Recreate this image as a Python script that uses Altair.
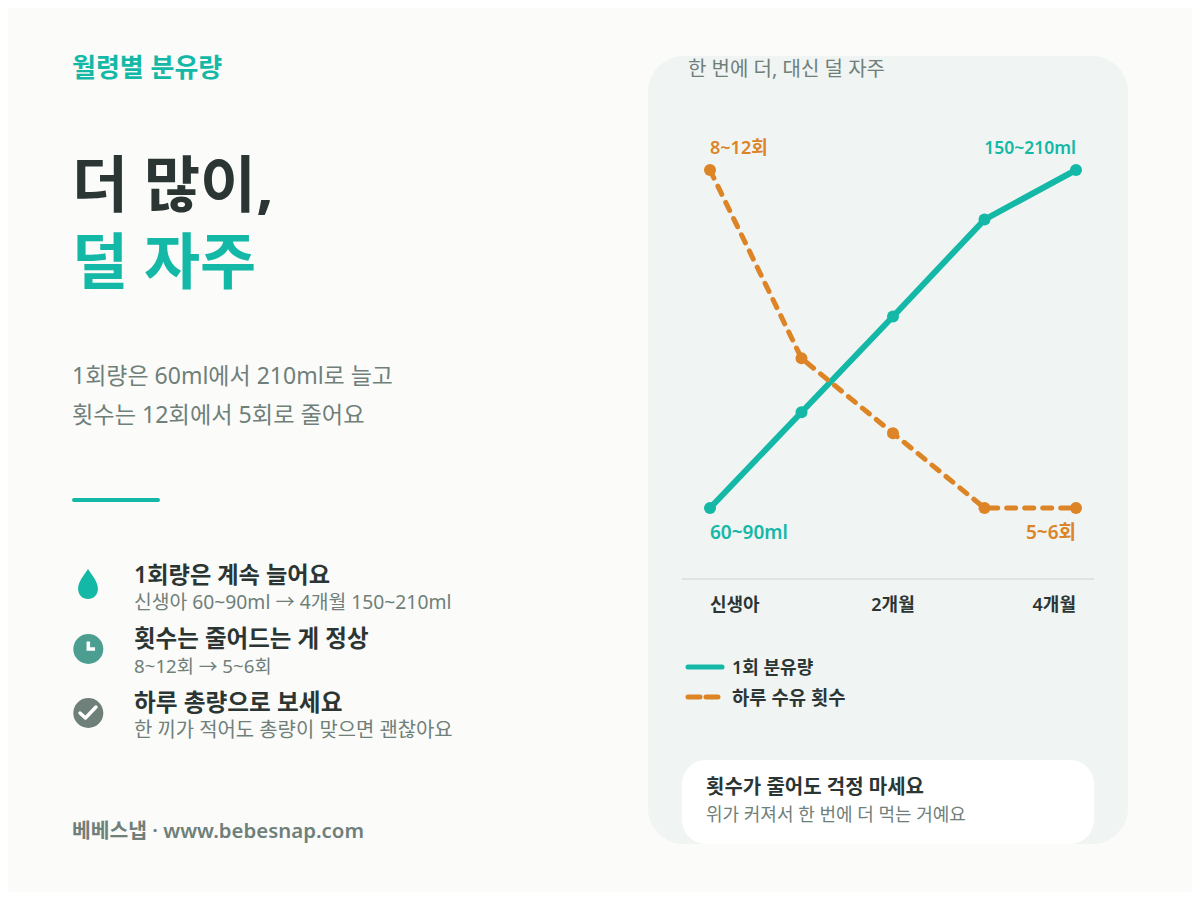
import altair as alt
import pandas as pd

FONT = "'Noto Sans', 'Noto Sans CJK KR'"
BG = "#FBFBF9"
PANEL = "#F0F4F3"
TEAL = "#14B8A6"
ORANGE = "#DD8426"
DARK = "#2B3634"
GRAY = "#6F7F7A"
RULE = "#DDE4E2"

months = [0, 1, 2, 3, 4]
ml_per_feed = [60, 102.5, 145, 188, 210]
feeds_per_day = [12, 8.1, 6.55, 5, 5]

eyebrow = "월령별 분유량"
title_1 = "더 많이,"
title_2 = "덜 자주"
body_lines = ["1회량은 60ml에서 210ml로 늘고", "횟수는 12회에서 5회로 줄어요"]
item_titles = ["1회량은 계속 늘어요", "횟수는 줄어드는 게 정상", "하루 총량으로 보세요"]
item_subs = ["신생아 60~90ml → 4개월 150~210ml", "8~12회 → 5~6회", "한 끼가 적어도 총량이 맞으면 괜찮아요"]
footer = "베베스냅 · www.bebesnap.com"
panel_title = "한 번에 더, 대신 덜 자주"
tick_labels = ["신생아", "2개월", "4개월"]
legend_labels = ["1회 분유량", "하루 수유 횟수"]
card_title = "횟수가 줄어도 걱정 마세요"
card_sub = "위가 커져서 한 번에 더 먹는 거예요"

df = pd.DataFrame({"month": months, "ml": ml_per_feed, "feeds": feeds_per_day})
one = alt.Data(values=[{"a": 1}])
OFF = 8  # page margin
TEXT_DY = 2


def px(v):
    return alt.value(v - OFF)


def text(s, x, y, size, color, weight=400, align="left"):
    return alt.Chart(one).mark_text(
        text=s, font=FONT, fontSize=size, fontWeight=weight, color=color,
        align=align, baseline="middle",
    ).encode(x=px(x), y=px(y + TEXT_DY))


def rect(x1, x2, y1, y2, color, r):
    return alt.Chart(one).mark_rect(color=color, cornerRadius=r).encode(
        x=px(x1), x2=px(x2), y=px(y1), y2=px(y2))


def hline(x1, x2, y, color, w, dash=None, cap="round"):
    kw = {"strokeDash": dash} if dash else {}
    return alt.Chart(one).mark_rule(color=color, strokeWidth=w, strokeCap=cap, **kw).encode(
        x=px(x1), x2=px(x2), y=px(y))


def glyph(shape, x, y, size, **kw):
    return alt.Chart(one).mark_point(shape=shape, size=size, **kw).encode(x=px(x), y=px(y))


x_enc = alt.X("month:Q", axis=None, scale=alt.Scale(domain=[0, 4], range=[702, 1068]))
y_ml = alt.Y("ml:Q", axis=None, scale=alt.Scale(domain=[60, 210], range=[500, 162]))
y_feed = alt.Y("feeds:Q", axis=None, scale=alt.Scale(domain=[5, 12], range=[500, 162]))

DROP = ("M0,-1 C0.3,-0.55 0.66,-0.15 0.66,0.33 C0.66,0.72 0.36,1 0,1 "
        "C-0.36,1 -0.66,0.72 -0.66,0.33 C-0.66,-0.15 -0.3,-0.55 0,-1 Z")
HANDS = "M0,-0.5 L0,0 L0.45,0"
CHECK = "M-0.55,0 L-0.19,0.33 L0.51,-0.4"

layers = [
    # panel & card
    rect(648, 1128, 56, 844, PANEL, 36),
    rect(682, 1094, 760, 844, "#FFFFFF", 24),
    # left column
    text(eyebrow, 72, 67, 26, TEAL, 600),
    text(title_1, 72, 187, 61, DARK, 700),
    text(title_2, 72, 264, 61, TEAL, 700),
    text(body_lines[0], 72, 375, 23, GRAY),
    text(body_lines[1], 72, 414, 23.2, GRAY),
    hline(74, 158, 500, TEAL, 4),
    glyph(DROP, 88, 584, 900, filled=True, color=TEAL, opacity=1, strokeWidth=0),
    glyph("circle", 88.3, 649, 900, filled=True, color="#4C9F90", opacity=1, strokeWidth=0),
    glyph(HANDS, 88.3, 649, 900, filled=False, color="#FFFFFF", opacity=1, strokeWidth=3.5),
    glyph("circle", 88.3, 713, 900, filled=True, color=GRAY, opacity=1, strokeWidth=0),
    glyph(CHECK, 88.3, 713, 900, filled=False, color="#FFFFFF", opacity=1, strokeWidth=3.5,
          strokeCap="round", strokeJoin="round"),
    text(item_titles[0], 134, 574, 23.2, DARK, 600),
    text(item_subs[0], 134, 601, 19.3, GRAY),
    text(item_titles[1], 134, 638, 23.5, DARK, 600),
    text(item_subs[1], 134, 665, 18.7, GRAY),
    text(item_titles[2], 134, 702, 23.7, DARK, 600),
    text(item_subs[2], 134, 729, 19.9, GRAY),
    text(footer, 72, 830, 20.4, GRAY, 600),
    # panel text
    text(panel_title, 688, 68, 20, GRAY),
    # series
    alt.Chart(df).mark_line(color=TEAL, strokeWidth=6, strokeCap="round").encode(x=x_enc, y=y_ml),
    alt.Chart(df).mark_line(color=ORANGE, strokeWidth=5, strokeCap="round", strokeDash=[9, 9]).encode(x=x_enc, y=y_feed),
    alt.Chart(df).mark_point(filled=True, size=144, color=TEAL, opacity=1, strokeWidth=0).encode(x=x_enc, y=y_ml),
    alt.Chart(df).mark_point(filled=True, size=144, color=ORANGE, opacity=1, strokeWidth=0).encode(x=x_enc, y=y_feed),
    text("8~12회", 710, 147, 18, ORANGE, 600),
    text("150~210ml", 1076, 147, 17.5, TEAL, 600, "right"),
    text("60~90ml", 710, 531, 19, TEAL, 600),
    text("5~6회", 1076, 531, 19, ORANGE, 600, "right"),
    hline(682, 1094, 579, RULE, 2, cap="butt"),
    text(tick_labels[0], 710, 604, 18, DARK, 600),
    text(tick_labels[1], 893, 604, 18, DARK, 600, "center"),
    text(tick_labels[2], 1076, 604, 18, DARK, 600, "right"),
    # legend
    hline(688, 722, 667, TEAL, 5),
    text(legend_labels[0], 732, 667, 18, DARK, 600),
    hline(688, 722, 697, ORANGE, 5, dash=[12, 6]),
    text(legend_labels[1], 732, 697, 18.8, DARK, 600),
    text(card_title, 706, 786, 20, DARK, 600),
    text(card_sub, 706, 814, 18, GRAY),
]

chart = alt.layer(*layers).resolve_scale(y="independent").properties(
    width=1184, height=884, padding=0, background=BG,
    autosize=alt.AutoSizeParams(type="none"),
).configure_view(stroke=None)

chart.save("out.html", embed_options={"renderer": "svg", "actions": False})
